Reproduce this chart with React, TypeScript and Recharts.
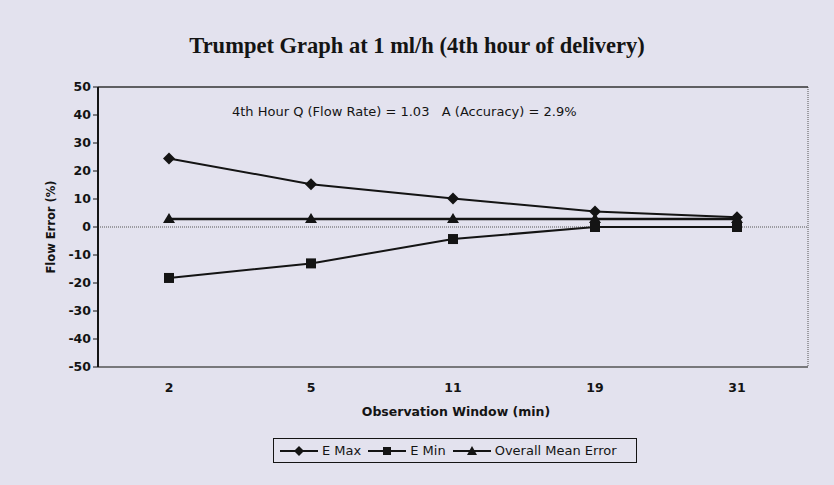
import React from 'react';
import { LineChart, Line, XAxis, YAxis, CartesianGrid, ReferenceLine } from 'recharts';

const windows = ['2', '5', '11', '19', '31'];
const eMax = [24.5, 15.3, 10.2, 5.5, 3.5];
const eMin = [-18.2, -13, -4.3, 0, 0];
const meanError = [2.9, 2.9, 2.9, 2.9, 2.9];
const yTicks = [-50, -40, -30, -20, -10, 0, 10, 20, 30, 40, 50];

const data = windows.map((w, i) => ({
  window: w,
  eMax: eMax[i],
  eMin: eMin[i],
  mean: meanError[i],
}));

const ink = '#141414';
const bg = '#e3e2ee';
const sans = '"DejaVu Sans", Arial, sans-serif';

const Diamond = (props: any) => {
  const { cx, cy } = props;
  if (cx == null || cy == null) return null;
  return <path d={`M${cx},${cy - 6} L${cx + 6},${cy} L${cx},${cy + 6} L${cx - 6},${cy} Z`} fill={ink} />;
};

const Square = (props: any) => {
  const { cx, cy } = props;
  if (cx == null || cy == null) return null;
  return <rect x={cx - 5} y={cy - 5} width={10} height={10} fill={ink} />;
};

const Triangle = (props: any) => {
  const { cx, cy } = props;
  if (cx == null || cy == null) return null;
  return <path d={`M${cx},${cy - 6} L${cx + 6},${cy + 4} L${cx - 6},${cy + 4} Z`} fill={ink} />;
};

const legendItems = [
  { label: 'E Max', marker: 'diamond' },
  { label: 'E Min', marker: 'square' },
  { label: 'Overall Mean Error', marker: 'triangle' },
];

const LegendMarker = ({ kind }: { kind: string }) => (
  <svg width={38} height={12} style={{ marginRight: 4 }}>
    <line x1={0} y1={6} x2={38} y2={6} stroke={ink} strokeWidth={2} />
    {kind === 'diamond' && <path d="M19,1 L24,6 L19,11 L14,6 Z" fill={ink} />}
    {kind === 'square' && <rect x={15} y={2} width={8} height={8} fill={ink} />}
    {kind === 'triangle' && <path d="M19,1 L24,10 L14,10 Z" fill={ink} />}
  </svg>
);

const App = () => {
  return (
    <div style={{ position: 'absolute', left: 0, top: 0, width: 834, height: 485, background: bg, fontFamily: sans }}>
      <div style={{ position: 'absolute', left: 0, width: 834, top: 33, textAlign: 'center', fontFamily: '"Liberation Serif", "Times New Roman", serif', fontWeight: 'bold', fontSize: 22.5, color: ink }}>
        Trumpet Graph at 1 ml/h (4th hour of delivery)
      </div>
      <div style={{ position: 'absolute', left: 232, top: 104, fontSize: 13, color: ink, whiteSpace: 'pre' }}>
        {'4th Hour Q (Flow Rate) = 1.03   A (Accuracy) = 2.9%'}
      </div>
      <div style={{ position: 'absolute', left: 51, top: 227, transform: 'translate(-50%, -50%) rotate(-90deg)', fontSize: 11.5, fontWeight: 'bold', color: ink, whiteSpace: 'nowrap' }}>
        Flow Error (%)
      </div>
      <div style={{ position: 'absolute', left: 98, width: 716, top: 404, textAlign: 'center', fontSize: 12.5, fontWeight: 'bold', color: ink }}>
        Observation Window (min)
      </div>
      <div style={{ position: 'absolute', left: 273, top: 438, width: 364, height: 25, border: `1.5px solid ${ink}`, display: 'flex', alignItems: 'center', paddingLeft: 6, fontSize: 13, color: ink, boxSizing: 'border-box' }}>
        {legendItems.map((it) => (
          <span key={it.label} style={{ display: 'flex', alignItems: 'center', marginRight: 7 }}>
            <LegendMarker kind={it.marker} />
            {it.label}
          </span>
        ))}
      </div>
      <LineChart width={834} height={485} data={data} margin={{ top: 87, right: 26, left: 58, bottom: 88 }} style={{ position: 'absolute', left: 0, top: 0 }}>
        <CartesianGrid
          horizontal={false}
          stroke="#555"
          strokeDasharray="1 1"
          verticalCoordinatesGenerator={({ offset }: any) => [offset.left + offset.width]}
        />
        <ReferenceLine y={50} stroke="#333" strokeWidth={1.5} />
        <ReferenceLine y={-50} stroke="#555" strokeWidth={1.5} />
        <ReferenceLine y={0} stroke="#555" strokeDasharray="1 1" />
        <XAxis
          dataKey="window"
          scale="band"
          axisLine={false}
          tickLine={false}
          tick={{ fill: ink, fontSize: 12.5, fontWeight: 'bold', fontFamily: sans }}
          tickMargin={10}
        />
        <YAxis
          domain={[-50, 50]}
          ticks={yTicks}
          width={40}
          axisLine={{ stroke: ink, strokeWidth: 2 }}
          tickLine={{ stroke: ink }}
          tickSize={5}
          tick={{ fill: ink, fontSize: 12.5, fontWeight: 'bold', fontFamily: sans }}
          interval={0}
        />
        <Line dataKey="eMax" stroke={ink} strokeWidth={2} dot={<Diamond />} isAnimationActive={false} />
        <Line dataKey="eMin" stroke={ink} strokeWidth={2} dot={<Square />} isAnimationActive={false} />
        <Line dataKey="mean" stroke={ink} strokeWidth={2.5} dot={<Triangle />} isAnimationActive={false} />
      </LineChart>
    </div>
  );
};

export default App;
